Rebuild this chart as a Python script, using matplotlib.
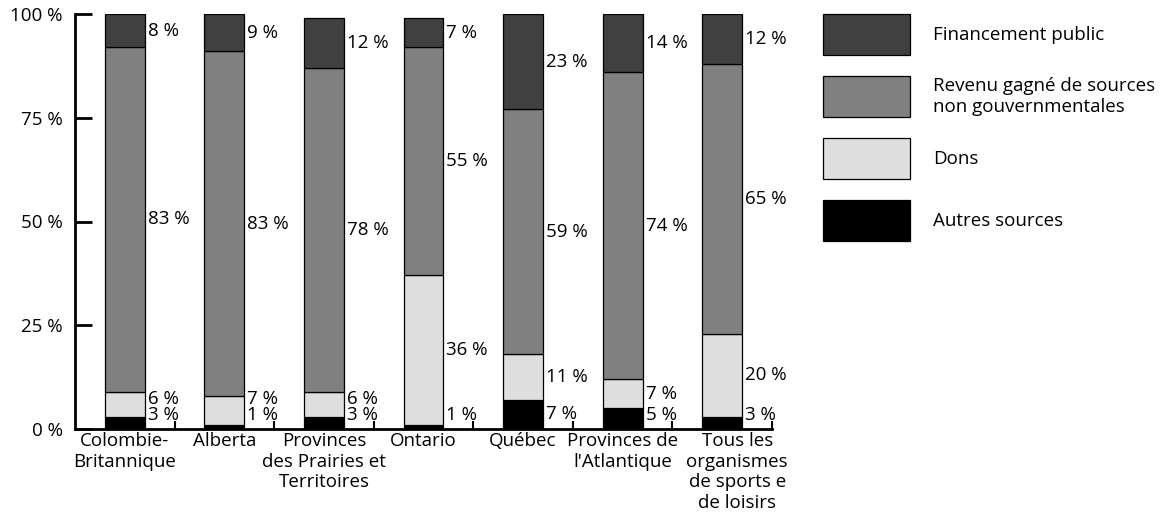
import matplotlib.pyplot as plt
from matplotlib.patches import Rectangle
from matplotlib.transforms import ScaledTranslation
import numpy as np

plt.rcParams['font.family'] = ['Open Sans', 'DejaVu Sans']

categories = ["Colombie-\nBritannique", "Alberta", "Provinces\ndes Prairies et\nTerritoires",
              "Ontario", "Québec", "Provinces de\nl'Atlantique",
              "Tous les\norganismes\nde sports e\nde loisirs"]

# bottom to top
autres = [3, 1, 3, 1, 7, 5, 3]
dons = [6, 7, 6, 36, 11, 7, 20]
revenu = [83, 83, 78, 55, 59, 74, 65]
public = [8, 9, 12, 7, 23, 14, 12]

series = [autres, dons, revenu, public]
colours = ['#000000', '#dedede', '#808080', '#404040']
legend_names = ["Financement public", "Revenu gagné de sources\nnon gouvernmentales",
                "Dons", "Autres sources"]
legend_colours = ['#404040', '#808080', '#dedede', '#000000']

FS = 13.5
W, H = 1162, 518
fig = plt.figure(figsize=(W / 100, H / 100), dpi=100)
ax = fig.add_axes([75 / W, (H - 429) / H, 697 / W, 415 / H])

x = np.arange(len(categories))
bw = 0.40
bottom = np.zeros(len(categories))
for vals, col in zip(series, colours):
    ax.bar(x, vals, bw, bottom=bottom, color=col, edgecolor='black', linewidth=0.9, zorder=2)
    bottom += np.array(vals)

# value labels right of each bar
for i in range(len(categories)):
    base = 0
    prev = None
    for vals in series:
        v = vals[i]
        y = base + v / 2
        if prev is None:
            y = max(y, 3.4)
        else:
            y = max(y, prev + 3.8)
        ax.text(x[i] + bw / 2 + 0.03, y, "%d %%" % v, ha='left', va='center', fontsize=FS)
        prev = y
        base += v

ax.set_xlim(-0.5, len(categories) - 0.5)
ax.set_ylim(0, 100)
ax.set_yticks([0, 25, 50, 75, 100])
ax.set_yticklabels(["0 %", "25 %", "50 %", "75 %", "100 %"])
ax.set_xticks(x)
ax.set_xticklabels(categories, fontsize=FS, linespacing=1.2)
ax.set_xticks(x + 0.5, minor=True)
for s in ['top', 'right']:
    ax.spines[s].set_visible(False)
ax.spines['left'].set_linewidth(2)
ax.spines['bottom'].set_linewidth(2)
ax.tick_params(axis='y', direction='in', length=12, width=2, labelsize=FS, pad=9)
ax.tick_params(axis='x', which='major', length=0, pad=2)
ax.tick_params(axis='x', which='minor', direction='in', length=6, width=1.5)

# the last label sits a little to the right in the original
last = ax.get_xticklabels()[-1]
last.set_transform(last.get_transform() + ScaledTranslation(0.15, 0, fig.dpi_scale_trans))

# legend
lax = fig.add_axes([0, 0, 1, 1])
lax.set_xlim(0, W)
lax.set_ylim(H, 0)
lax.axis('off')
for k, (name, col) in enumerate(zip(legend_names, legend_colours)):
    top = 14 + k * 62
    lax.add_patch(Rectangle((823, top), 87, 41, facecolor=col, edgecolor='black', linewidth=0.9))
    lax.text(933, top + 20.5, name, ha='left', va='center', fontsize=FS, linespacing=1.15)

fig.savefig('out.png', dpi=100)
